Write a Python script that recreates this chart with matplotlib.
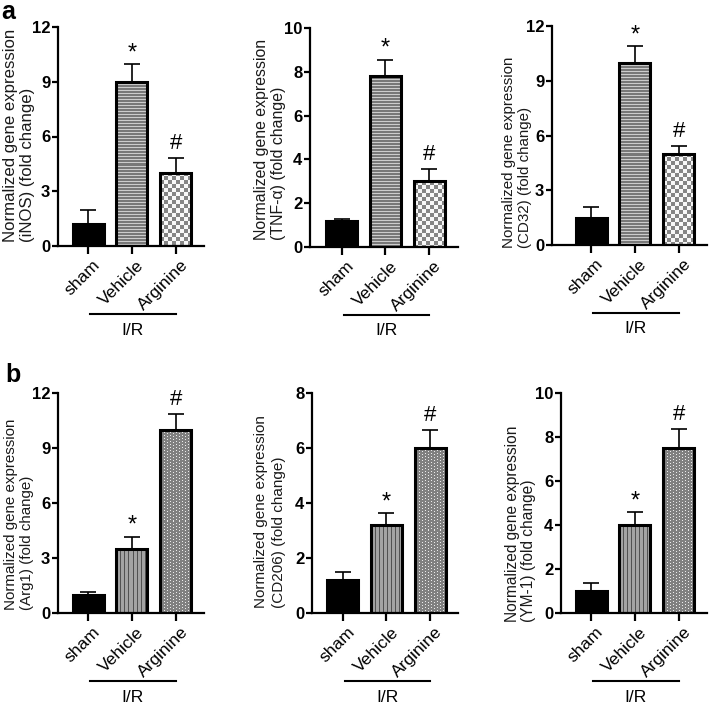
import numpy as np
import matplotlib
matplotlib.use('Agg')
import matplotlib.pyplot as plt
from matplotlib.transforms import ScaledTranslation, blended_transform_factory

plt.rcParams['font.family'] = ['Liberation Sans', 'DejaVu Sans']

# data
groups = ['sham', 'Vehicle', 'Arginine']
genes = ['iNOS', 'TNF-α', 'CD32', 'Arg1', 'CD206', 'YM-1']
means = [[1.2, 9.0, 4.0],
         [1.2, 7.8, 3.0],
         [1.5, 10.0, 5.0],
         [1.0, 3.5, 10.0],
         [1.2, 3.2, 6.0],
         [1.0, 4.0, 7.5]]
sems = [[0.75, 0.95, 0.8],
        [0.07, 0.75, 0.55],
        [0.6, 0.9, 0.4],
        [0.15, 0.65, 0.85],
        [0.28, 0.42, 0.65],
        [0.37, 0.58, 0.87]]
marks = ['', '*', '#']
ymaxs = [12, 10, 12, 12, 8, 10]
ysteps = [3, 2, 3, 3, 2, 2]

# layout in pixels: axis left, axis right, top, bottom, first bar centre
W, H = 709, 705
layout = [(58, 204, 27, 246, 88),
          (310, 458, 28, 247, 341.5),
          (552, 707, 26, 245, 591),
          (58, 204, 393, 613, 88),
          (312, 458, 393, 613, 342.5),
          (561, 707, 393, 613, 591)]
# y label: x of line 1, x of line 2, y where lines start, font size
ylab_pos = [(10.5, 27.5, 242, 12.1),
            (261.5, 279, 240, 11.4),
            (509, 524.5, 248, 10.9),
            (10.5, 27, 610, 10.9),
            (261.5, 279, 608, 11.0),
            (512.5, 528.5, 622, 11.2)]
spacing = 43.8
bar_px = 31
textures = [['solid', 'hlines', 'checker']] * 3 + [['solid', 'vlines', 'dots']] * 3


def texture(kind, w, h):
    yy, xx = np.mgrid[0:h, 0:w]
    if kind == 'hlines':
        return np.where(yy % 3 == 0, 0.80, 0.47)
    if kind == 'checker':
        return np.where((xx // 4 + yy // 4) % 2 == 0, 0.52, 0.97)
    if kind == 'vlines':
        return np.where(xx % 4 == 0, 0.32, 0.64)
    if kind == 'dots':
        return np.where((xx % 3 == 1) & ((yy + (xx // 3) % 2) % 3 == 1), 0.92, 0.50)
    return np.zeros((h, w))


fig = plt.figure(figsize=(W / 100, H / 100), dpi=100)

for k in range(6):
    left, right, top, bottom, first = layout[k]
    ax = fig.add_axes([left / W, 1 - bottom / H, (right - left) / W, (bottom - top) / H])
    x = np.arange(3)
    bw = bar_px / spacing
    m = np.array(means[k])
    s = np.array(sems[k])
    ppu = (bottom - top) / ymaxs[k]

    ax.errorbar(x, m, yerr=[np.zeros(3), s], fmt='none', ecolor='black',
                elinewidth=1.2, capsize=5.8, capthick=1.2, zorder=1)
    colors = ['black' if t == 'solid' else 'white' for t in textures[k]]
    ax.bar(x, m, bw, color=colors, edgecolor='none', zorder=2)
    for i, t in enumerate(textures[k]):
        if t == 'solid':
            continue
        img = texture(t, bar_px, int(round(m[i] * ppu)))
        ax.imshow(img, cmap='gray', vmin=0, vmax=1, interpolation='nearest',
                  extent=(i - bw / 2, i + bw / 2, 0, m[i]), aspect='auto', zorder=2.5)
    ax.bar(x, m, bw, fill=False, edgecolor='black', linewidth=2.2, zorder=3)
    ax.set_xlim(-(first - left) / spacing, (right - first) / spacing)
    ax.set_ylim(0, ymaxs[k])

    for i, mk in enumerate(marks):
        if mk:
            ax.annotate(mk, (i, m[i] + s[i]), xytext=(0, 3 if mk == '#' else 0),
                        textcoords='offset points', ha='center', va='bottom',
                        fontsize=16 if mk == '#' else 17)

    ax.spines['top'].set_visible(False)
    ax.spines['right'].set_visible(False)
    ax.spines['left'].set_linewidth(1.6)
    ax.spines['bottom'].set_linewidth(1.6)
    yt = np.arange(0, ymaxs[k] + 0.1, ysteps[k])
    ax.set_yticks(yt, labels=[str(int(v)) for v in yt], fontweight='bold', fontsize=12)
    ax.tick_params(axis='y', length=4.5, width=1.6, pad=1)
    ax.set_xticks(x, labels=groups, rotation=45, ha='right', va='center',
                  rotation_mode='anchor', fontsize=12.5)
    ax.tick_params(axis='x', length=6, width=1.6, pad=6)
    off = ScaledTranslation(10 / 100, 0, fig.dpi_scale_trans)
    for lab in ax.get_xticklabels():
        lab.set_transform(lab.get_transform() + off)

    # I/R bracket
    tr = blended_transform_factory(ax.transData, ax.transAxes)
    ah = bottom - top
    ax.plot([0.05, 2.0], [-68 / ah, -68 / ah], color='black', lw=1.5,
            transform=tr, clip_on=False)
    ax.text(1.02, -84 / ah, 'I/R', transform=tr, ha='center', va='center', fontsize=12.5)

    # two-line y label, lines start at the same height
    x1, x2, y0, fs = ylab_pos[k]
    for lx, line in [(x1, 'Normalized gene expression'),
                     (x2, '(' + genes[k] + ') (fold change)')]:
        fig.text(lx / W, 1 - y0 / H, line, rotation=90, rotation_mode='anchor',
                 ha='left', va='center', fontsize=fs, color='#1a1a1a')

fig.text(1 / W, 1 - 19 / H, 'a', fontsize=18, fontweight='bold', ha='left', va='baseline')
fig.text(5 / W, 1 - 382 / H, 'b', fontsize=18, fontweight='bold', ha='left', va='baseline')

fig.savefig('out.png', dpi=100)
